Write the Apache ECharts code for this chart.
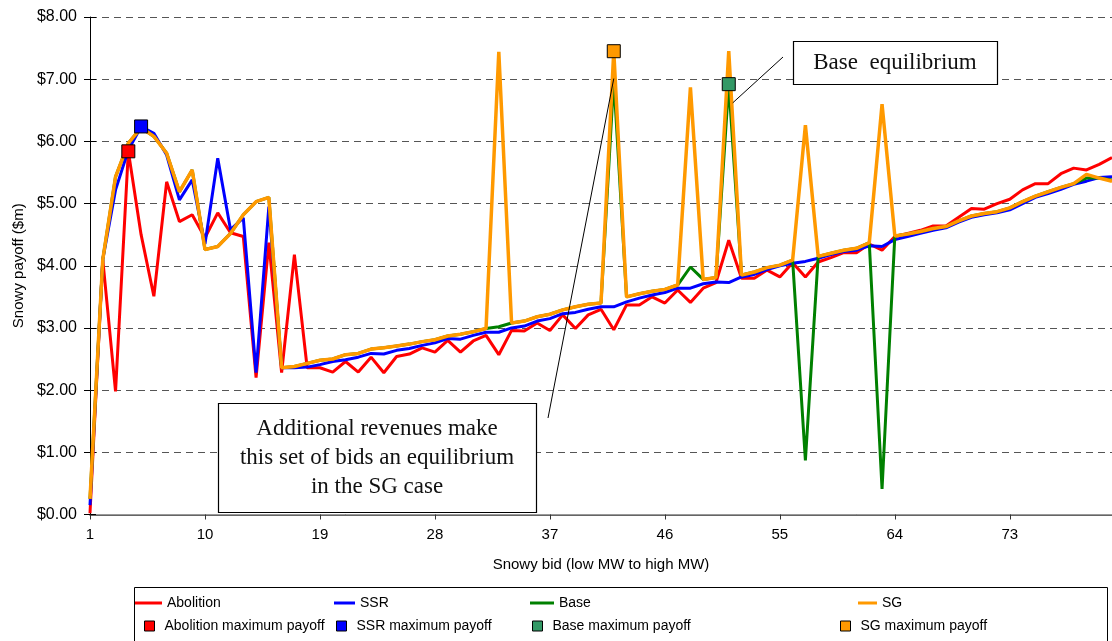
<!DOCTYPE html>
<html>
<head>
<meta charset="utf-8">
<script src="https://cdn.jsdelivr.net/npm/echarts@6/dist/echarts.min.js"></script>
<style>
html,body{margin:0;padding:0;background:#fff;}
#chart{width:1112px;height:641px;}
</style>
</head>
<body>
<div id="chart"></div>
<script>
// Snowy bid categories (low MW to high MW)
var categories = [];
for (var i = 1; i <= 81; i++) categories.push(String(i));

var yTicks = [0, 1, 2, 3, 4, 5, 6, 7, 8];

var abolition = [
  0.02, 4.10, 1.98, 5.84, 4.50, 3.51, 5.35, 4.71, 4.82, 4.45,
  4.85, 4.53, 4.47, 2.20, 4.37, 2.28, 4.18, 2.36, 2.36, 2.29,
  2.46, 2.29, 2.53, 2.28, 2.54, 2.58, 2.68, 2.61, 2.80, 2.61,
  2.79, 2.88, 2.57, 2.96, 2.95, 3.08, 2.96, 3.21, 2.99, 3.21,
  3.30, 2.97, 3.37, 3.37, 3.50, 3.40, 3.61, 3.41, 3.64, 3.73,
  4.41, 3.80, 3.80, 3.93, 3.82, 4.05, 3.82, 4.06, 4.13, 4.21,
  4.21, 4.35, 4.25, 4.47, 4.52, 4.57, 4.64, 4.64, 4.78, 4.92,
  4.91, 5.00, 5.07, 5.22, 5.32, 5.32, 5.48, 5.57, 5.54, 5.63,
  5.74
];

var ssr = [
  0.15, 4.10, 5.22, 5.86, 6.24, 6.13, 5.78, 5.06, 5.38, 4.35,
  5.73, 4.58, 4.77, 2.28, 4.95, 2.36, 2.36, 2.37, 2.41, 2.46,
  2.49, 2.53, 2.59, 2.58, 2.64, 2.67, 2.72, 2.76, 2.83, 2.82,
  2.88, 2.93, 2.93, 3.00, 3.03, 3.11, 3.15, 3.23, 3.25, 3.30,
  3.34, 3.34, 3.42, 3.48, 3.53, 3.57, 3.64, 3.64, 3.71, 3.74,
  3.73, 3.82, 3.86, 3.94, 4.00, 4.04, 4.07, 4.12, 4.18, 4.23,
  4.25, 4.32, 4.31, 4.42, 4.47, 4.52, 4.57, 4.61, 4.70, 4.78,
  4.82, 4.85, 4.90, 5.00, 5.10, 5.16, 5.23, 5.31, 5.36, 5.42,
  5.43
];

var base = [
  0.25, 4.10, 5.43, 5.97, 6.22, 6.08, 5.81, 5.19, 5.54, 4.26,
  4.31, 4.52, 4.82, 5.03, 5.10, 2.36, 2.38, 2.43, 2.48, 2.50,
  2.57, 2.59, 2.66, 2.68, 2.71, 2.74, 2.78, 2.81, 2.87, 2.90,
  2.94, 2.99, 3.02, 3.08, 3.11, 3.18, 3.22, 3.29, 3.34, 3.38,
  3.40, 7.00, 3.50, 3.55, 3.59, 3.62, 3.69, 3.98, 3.78, 3.81,
  6.92, 3.85, 3.90, 3.97, 4.01, 4.09, 0.87, 4.15, 4.20, 4.25,
  4.28, 4.37, 0.41, 4.48, 4.51, 4.55, 4.60, 4.63, 4.72, 4.80,
  4.84, 4.87, 4.93, 5.03, 5.12, 5.19, 5.26, 5.32, 5.41, 5.41,
  5.38
];

var sg = [
  0.25, 4.10, 5.43, 5.97, 6.22, 6.08, 5.81, 5.19, 5.54, 4.26,
  4.31, 4.52, 4.82, 5.03, 5.10, 2.36, 2.38, 2.43, 2.48, 2.50,
  2.57, 2.59, 2.66, 2.68, 2.71, 2.74, 2.78, 2.81, 2.87, 2.90,
  2.94, 2.99, 7.44, 3.08, 3.11, 3.18, 3.22, 3.29, 3.34, 3.38,
  3.40, 7.45, 3.50, 3.55, 3.59, 3.62, 3.69, 6.87, 3.78, 3.81,
  7.45, 3.85, 3.90, 3.97, 4.01, 4.09, 6.26, 4.15, 4.20, 4.25,
  4.28, 4.37, 6.60, 4.48, 4.51, 4.55, 4.60, 4.63, 4.72, 4.80,
  4.84, 4.87, 4.93, 5.03, 5.12, 5.19, 5.26, 5.32, 5.47, 5.41,
  5.36
];

// maximum payoff points [bid, payoff]
var abolitionMax = [['4', 5.84]];
var ssrMax = [['5', 6.24]];
var baseMax = [['51', 6.92]];
var sgMax = [['42', 7.45]];

// annotation anchor points [bid, payoff]
var sgNoteAnchor = ['42', 7.01];
var baseNoteAnchor = ['51', 6.62];

var FONT = 'Liberation Sans, Arial, sans-serif';
var SERIF = 'Liberation Serif, Times New Roman, serif';

var chart = echarts.init(document.getElementById('chart'), null, {renderer: 'canvas'});

function lineSeries(name, data, color, width) {
  return {
    name: name, type: 'line', data: data, symbol: 'none',
    lineStyle: {color: color, width: width}, itemStyle: {color: color},
    animation: false, z: 2
  };
}
function markSeries(name, data, color) {
  return {
    name: name, type: 'scatter', data: data, symbol: 'rect', symbolSize: 13,
    itemStyle: {color: color, borderColor: '#000', borderWidth: 1, opacity: 1},
    animation: false, z: 5
  };
}
function lg(name, left, top, w, h, isMark) {
  var o = {
    data: [name], left: left, top: top, itemWidth: w, itemHeight: h, padding: 0,
    icon: 'rect', itemGap: 0,
    textStyle: {fontFamily: FONT, fontSize: 14, color: '#000', padding: [0, 0, 0, isMark ? 5 : 0]},
    selectedMode: false
  };
  if (isMark) o.itemStyle = {borderColor: '#000', borderWidth: 1};
  return o;
}

var option = {
  backgroundColor: '#fff',
  animation: false,
  grid: {left: 90, right: 0, top: 17, bottom: 126.5, containLabel: false},
  xAxis: [{
    type: 'category', data: categories, boundaryGap: false,
    name: 'Snowy bid (low MW to high MW)', nameLocation: 'middle', nameGap: 43,
    nameTextStyle: {fontFamily: FONT, fontSize: 15, color: '#000'},
    axisLine: {show: true, lineStyle: {color: '#333', width: 1.5}},
    axisTick: {show: true, interval: 8, length: 5, lineStyle: {color: '#333'}},
    axisLabel: {interval: 8, margin: 13, fontFamily: FONT, fontSize: 15, color: '#000'},
    splitLine: {show: false}
  }, {
    type: 'category', data: categories, boundaryGap: false, position: 'top',
    axisLine: {show: true, lineStyle: {color: '#999', width: 1}},
    axisTick: {show: false}, axisLabel: {show: false}, splitLine: {show: false}
  }],
  yAxis: [{
    type: 'value', min: yTicks[0], max: yTicks[yTicks.length - 1], interval: 1,
    name: 'Snowy payoff ($m)', nameLocation: 'middle', nameGap: 64,
    nameTextStyle: {fontFamily: FONT, fontSize: 15, color: '#000'},
    axisLine: {show: true, lineStyle: {color: '#000', width: 1}},
    axisTick: {show: true, length: 6, lineStyle: {color: '#000'}},
    axisLabel: {margin: 13, fontFamily: FONT, fontSize: 16, color: '#000',
      formatter: function (v) { return '$' + v.toFixed(2); }},
    splitLine: {show: true, lineStyle: {color: '#555', width: 1, type: [7, 5]}}
  }, {
    type: 'value', min: yTicks[0], max: yTicks[yTicks.length - 1], interval: 1,
    position: 'left', offset: 0,
    axisLine: {show: false},
    axisTick: {show: true, inside: true, length: 6, lineStyle: {color: '#000'}},
    axisLabel: {show: false}, splitLine: {show: false}
  }],
  legend: [
    lg('Abolition', 135, 596, 27, 3, false),
    lg('SSR', 334, 596, 21, 3, false),
    lg('Base', 530, 596, 24, 3, false),
    lg('SG', 858, 596, 19, 3, false),
    lg('Abolition maximum payoff', 144, 619, 10, 10, true),
    lg('SSR maximum payoff', 336, 619, 10, 10, true),
    lg('Base maximum payoff', 532, 619, 10, 10, true),
    lg('SG maximum payoff', 840, 619, 10, 10, true)
  ],
  series: [
    lineSeries('Abolition', abolition, '#ff0000', 3),
    lineSeries('SSR', ssr, '#0000ff', 3),
    lineSeries('Base', base, '#008000', 3),
    lineSeries('SG', sg, '#ff9900', 3.5),
    markSeries('Abolition maximum payoff', abolitionMax, '#ff0000'),
    markSeries('SSR maximum payoff', ssrMax, '#0000ff'),
    markSeries('Base maximum payoff', baseMax, '#339966'),
    markSeries('SG maximum payoff', sgMax, '#ff9900')
  ]
};
chart.setOption(option);

var pSG = chart.convertToPixel({gridIndex: 0}, sgNoteAnchor);
var pBase = chart.convertToPixel({gridIndex: 0}, baseNoteAnchor);

chart.setOption({
  graphic: [
    {type: 'rect', silent: true, z: 1,
      shape: {x: 134.5, y: 587.5, width: 973, height: 60},
      style: {fill: '#fff', stroke: '#000', lineWidth: 1}},
    {type: 'line', silent: true, z: 10,
      shape: {x1: 548, y1: 418, x2: pSG[0], y2: pSG[1]},
      style: {stroke: '#000', lineWidth: 1}},
    {type: 'line', silent: true, z: 10,
      shape: {x1: 783, y1: 57, x2: pBase[0] + 4, y2: pBase[1]},
      style: {stroke: '#000', lineWidth: 1}},
    {type: 'rect', silent: true, z: 10,
      shape: {x: 218.5, y: 403.5, width: 318, height: 109},
      style: {fill: '#fff', stroke: '#000', lineWidth: 1.2}},
    {type: 'text', silent: true, z: 11,
      x: 377, y: 414,
      style: {text: 'Additional revenues make\nthis set of bids an equilibrium\nin the SG case',
        font: '23px ' + SERIF, lineHeight: 29, fill: '#111', align: 'center', verticalAlign: 'top'}},
    {type: 'rect', silent: true, z: 10,
      shape: {x: 793.5, y: 41.5, width: 204, height: 43},
      style: {fill: '#fff', stroke: '#000', lineWidth: 1.2}},
    {type: 'text', silent: true, z: 11,
      x: 895, y: 63,
      style: {text: 'Base  equilibrium', font: '23px ' + SERIF, fill: '#111',
        align: 'center', verticalAlign: 'middle'}}
  ]
});
</script>
</body>
</html>
